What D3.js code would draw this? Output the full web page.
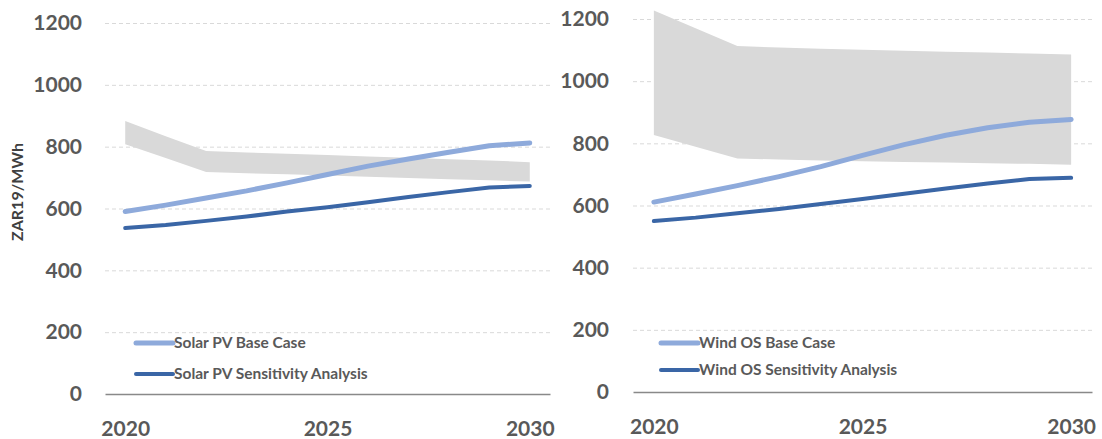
<!DOCTYPE html>
<html>
<head>
<meta charset="utf-8">
<script src="https://cdn.jsdelivr.net/npm/d3@7"></script>
<style>
  html, body { margin: 0; padding: 0; background: #ffffff; }
  svg { display: block; font-family: Lato, "Open Sans", sans-serif; }
</style>
</head>
<body>
<svg id="chart" width="1102" height="439"></svg>
<script>
// ---- data ----
const years = [2020, 2021, 2022, 2023, 2024, 2025, 2026, 2027, 2028, 2029, 2030];
const xTicks = [2020, 2025, 2030];
const yTicks = [0, 200, 400, 600, 800, 1000, 1200];

const solarBandHigh = [883, 834, 786, 781, 777, 773, 768, 764, 759, 755, 750];
const solarBandLow  = [808, 763, 718, 714, 711, 707, 703, 699, 695, 691, 687];
const solarBase     = [590, 611, 634, 657, 683, 710, 737, 760, 782, 803, 812];
const solarSens     = [537, 547, 560, 574, 590, 604, 620, 637, 653, 668, 673];

const windBandHigh  = [1227, 1170, 1113, 1108, 1104, 1101, 1098, 1095, 1092, 1089, 1086];
const windBandLow   = [827, 789, 751, 748, 745, 742, 740, 738, 736, 734, 731];
const windBase      = [611, 637, 664, 693, 725, 761, 796, 826, 850, 868, 877];
const windSens      = [550, 561, 575, 589, 605, 621, 638, 655, 671, 685, 689];

const solarLabels = ["Solar PV Base Case", "Solar PV Sensitivity Analysis"];
const windLabels  = ["Wind OS Base Case", "Wind OS Sensitivity Analysis"];
const yTitle = "ZAR19/MWh";

// ---- styles ----
const C = {
  band: "#d9d9d9",
  base: "#8eaadb",
  sens: "#3a66a6",
  grid: "#d9d9d9",
  axis: "#898989",
  text: "#595959",
  title: "#404040"
};

const svg = d3.select("#chart");

const panels = [
  { left: 105, right: 550, top: 23, bottom: 394, pad: 23,
    hi: solarBandHigh, lo: solarBandLow, base: solarBase, sens: solarSens,
    labels: solarLabels, legX: 136, legY: 343, legGap: 31 },
  { left: 633, right: 1092, top: 19, bottom: 392, pad: 24,
    hi: windBandHigh, lo: windBandLow, base: windBase, sens: windSens,
    labels: windLabels, legX: 661, legY: 343, legGap: 27 }
];

panels.forEach(p => {
  const x = d3.scaleLinear().domain([2019.5, 2030.5]).range([p.left, p.right]);
  const y = d3.scaleLinear().domain([0, 1200]).range([p.bottom, p.top]);
  const g = svg.append("g");

  // gridlines
  const grid = g.append("g")
    .attr("transform", `translate(${p.left},0)`)
    .call(d3.axisLeft(y).tickValues(yTicks.filter(v => v > 0))
      .tickSize(-(p.right - p.left)).tickFormat(""));
  grid.select(".domain").remove();
  grid.selectAll(".tick line")
    .attr("stroke", C.grid).attr("stroke-width", 1)
    .attr("stroke-dasharray", "4,3");

  // band
  const rows = years.map((yr, i) => ({ yr, hi: p.hi[i], lo: p.lo[i] }));
  g.append("path")
    .datum(rows)
    .attr("fill", C.band)
    .attr("d", d3.area().x(d => x(d.yr)).y0(d => y(d.lo)).y1(d => y(d.hi)));

  // lines
  const line = d3.line().x((d, i) => x(years[i])).y(d => y(d));
  g.append("path").datum(p.base)
    .attr("fill", "none").attr("stroke", C.base).attr("stroke-width", 5)
    .attr("stroke-linecap", "round").attr("stroke-linejoin", "round")
    .attr("d", line);
  g.append("path").datum(p.sens)
    .attr("fill", "none").attr("stroke", C.sens).attr("stroke-width", 4)
    .attr("stroke-linecap", "round").attr("stroke-linejoin", "round")
    .attr("d", line);

  // y axis labels
  const ya = g.append("g")
    .attr("transform", `translate(${p.left},0)`)
    .call(d3.axisLeft(y).tickValues(yTicks).tickSize(0).tickPadding(p.pad)
      .tickFormat(d3.format("d")));
  ya.select(".domain").remove();
  ya.selectAll("text")
    .attr("fill", C.text).style("font-family", "Lato, sans-serif")
    .style("font-weight", "700").style("font-size", "21px");

  // x axis
  const xa = g.append("g")
    .attr("transform", `translate(0,${p.bottom})`)
    .call(d3.axisBottom(x).tickValues(xTicks).tickSize(0).tickPadding(27)
      .tickFormat(d3.format("d")));
  xa.select(".domain").attr("stroke", C.axis).attr("stroke-width", 1.5);
  xa.selectAll("text")
    .attr("fill", C.text).style("font-family", "Lato, sans-serif")
    .style("font-weight", "700").style("font-size", "21px");

  // legend
  const leg = g.append("g");
  [C.base, C.sens].forEach((col, i) => {
    const ly = p.legY + i * p.legGap;
    leg.append("line")
      .attr("x1", p.legX).attr("x2", p.legX + 37)
      .attr("y1", ly).attr("y2", ly)
      .attr("stroke", col).attr("stroke-width", i === 0 ? 5 : 4)
      .attr("stroke-linecap", "round");
    leg.append("text")
      .attr("x", p.legX + 38).attr("y", ly).attr("dy", "0.35em")
      .attr("fill", C.text)
      .style("font-family", "Lato, sans-serif").style("font-weight", "700")
      .style("font-size", "15.5px")
      .text(p.labels[i]);
  });
});

// y-axis title
svg.append("text")
  .attr("transform", "translate(23,192) rotate(-90)")
  .attr("text-anchor", "middle")
  .attr("fill", C.title)
  .style("font-family", "Lato, sans-serif").style("font-weight", "700")
  .style("font-size", "16px")
  .text(yTitle);
</script>
</body>
</html>
